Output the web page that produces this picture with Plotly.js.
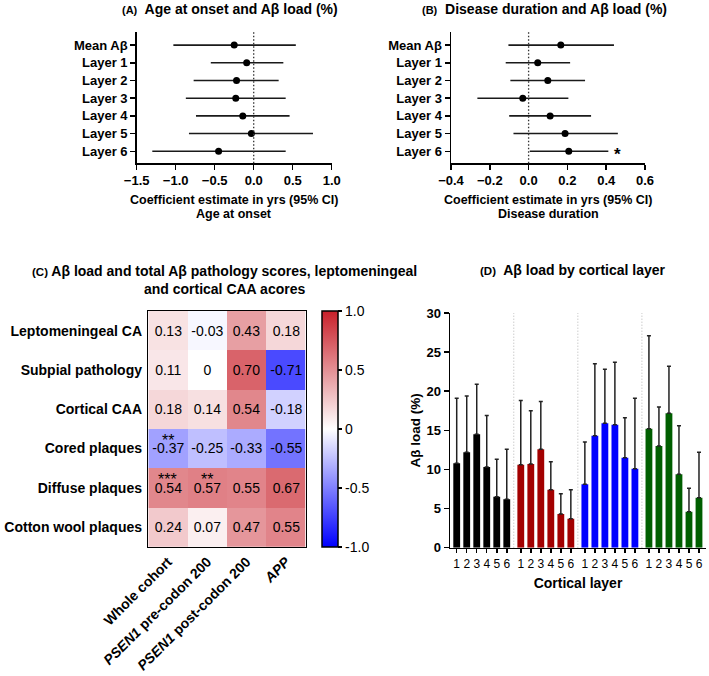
<!DOCTYPE html>
<html>
<head>
<meta charset="utf-8">
<script src="https://cdn.plot.ly/plotly-3.0.1.min.js"></script>
<style>
  body { margin: 0; background: #fff; }
  #chart { width: 709px; height: 676px; }
</style>
</head>
<body>
<div id="chart"></div>
<script>
// forest plots (A, B)
const rowLabels = ['Mean Aβ', 'Layer 1', 'Layer 2', 'Layer 3', 'Layer 4', 'Layer 5', 'Layer 6'];
const onsetEst = [-0.25, -0.09, -0.22, -0.23, -0.14, -0.03, -0.45];
const onsetLow = [-1.03, -0.55, -0.77, -0.87, -0.74, -0.83, -1.30];
const onsetHigh = [0.54, 0.38, 0.32, 0.41, 0.46, 0.76, 0.41];
const durationEst = [0.166, 0.047, 0.099, -0.03, 0.111, 0.188, 0.207];
const durationLow = [-0.104, -0.118, -0.094, -0.264, -0.10, -0.078, 0.006];
const durationHigh = [0.44, 0.214, 0.291, 0.205, 0.322, 0.46, 0.411];
const durationSig = ['', '', '', '', '', '', '*'];

// heatmap (C)
const cohortLabels = ['<b>Whole cohort</b>', '<i>PSEN1</i> <b>pre-codon 200</b>', '<i>PSEN1</i> <b>post-codon 200</b>', '<i>APP</i>'];
const pathologyLabels = ['Leptomeningeal CA', 'Subpial pathology', 'Cortical CAA', 'Cored plaques', 'Diffuse plaques', 'Cotton wool plaques'];
const corrValues = [
  [0.13, -0.03, 0.43, 0.18],
  [0.11, 0, 0.70, -0.71],
  [0.18, 0.14, 0.54, -0.18],
  [-0.37, -0.25, -0.33, -0.55],
  [0.54, 0.57, 0.55, 0.67],
  [0.24, 0.07, 0.47, 0.55]
];
const corrSig = [
  ['', '', '', ''],
  ['', '', '', ''],
  ['', '', '', ''],
  ['**', '', '', ''],
  ['***', '**', '', ''],
  ['', '', '', '']
];
const cbarVals = [-1, -0.5, 0, 0.5, 1];
const cbarText = ['-1.0', '-0.5', '0', '0.5', '1.0'];

// bars (D)
const layerLabels = ['1', '2', '3', '4', '5', '6'];
const groupColors = ['#000000', '#a30000', '#0000ff', '#005e00'];
const loadMean = [
  [10.8, 12.2, 14.5, 10.3, 6.5, 6.2],
  [10.6, 10.7, 12.6, 7.4, 4.3, 3.7],
  [8.1, 14.3, 15.9, 15.7, 11.5, 10.1],
  [15.2, 13.0, 17.2, 9.4, 4.6, 6.4]
];
const loadSD = [
  [8.3, 7.2, 6.4, 6.6, 4.8, 6.4],
  [8.2, 6.8, 6.1, 3.6, 2.6, 3.7],
  [5.4, 9.2, 6.9, 8.0, 5.1, 9.0],
  [11.9, 5.0, 6.0, 6.2, 3.0, 5.8]
];

const FONT = 'Liberation Sans, Arial, sans-serif';
const bold = (size) => ({ family: FONT, size: size, color: '#000', weight: 'bold' });
const plain = (size) => ({ family: FONT, size: size, color: '#000' });
const groupStep = 6.4;

function forestTrace(est, lo, hi, xa, ya) {
  return {
    type: 'scatter', mode: 'markers',
    x: est, y: rowLabels, xaxis: xa, yaxis: ya,
    marker: { color: '#000', size: 7 },
    error_x: {
      type: 'data', symmetric: false,
      array: hi.map((h, i) => h - est[i]),
      arrayminus: lo.map((l, i) => est[i] - l),
      width: 0, thickness: 1.6, color: '#1a1a1a'
    },
    hoverinfo: 'skip'
  };
}

const traces = [
  forestTrace(onsetEst, onsetLow, onsetHigh, 'x', 'y'),
  forestTrace(durationEst, durationLow, durationHigh, 'x2', 'y2'),
  {
    type: 'heatmap',
    z: corrValues, x: cohortLabels, y: pathologyLabels,
    xaxis: 'x3', yaxis: 'y3',
    zmin: -1, zmax: 1,
    colorscale: [[0, '#0000ff'], [0.5, '#ffffff'], [1, '#c8202a']],
    text: corrValues.map(r => r.map(v => v === 0 ? '0' : v.toFixed(2))),
    texttemplate: '%{text}',
    textfont: plain(14),
    hoverinfo: 'skip',
    colorbar: {
      x: 321.7 / 709, xanchor: 'left', xpad: 0,
      y: 1 - 428.85 / 676, yanchor: 'middle', ypad: 0,
      len: 235.7 / 676, lenmode: 'fraction',
      thickness: 16, thicknessmode: 'pixels',
      outlinewidth: 1.5, outlinecolor: '#000',
      ticks: 'outside', ticklen: 4, tickwidth: 1.5, tickcolor: '#000',
      tickvals: cbarVals, ticktext: cbarText,
      tickfont: plain(14)
    }
  }
];

loadMean.forEach((means, g) => {
  traces.push({
    type: 'bar',
    x: means.map((m, l) => g * groupStep + l),
    y: means,
    xaxis: 'x4', yaxis: 'y4',
    width: 0.68,
    marker: { color: groupColors[g], line: { width: 0 } },
    error_y: {
      type: 'data', symmetric: false,
      array: loadSD[g], arrayminus: means.map(() => 0),
      width: 2, thickness: 1.5, color: '#222'
    },
    hoverinfo: 'skip'
  });
});

const barTickVals = [];
const barTickText = [];
loadMean.forEach((means, g) => means.forEach((m, l) => {
  barTickVals.push(g * groupStep + l);
  barTickText.push(layerLabels[l]);
}));

const axisBase = {
  showline: true, linecolor: '#000', linewidth: 1.5,
  ticks: 'outside', ticklen: 5, tickwidth: 1.5, tickcolor: '#000',
  showgrid: false, zeroline: false, fixedrange: true
};

const shapes = [
  { type: 'line', xref: 'x', yref: 'y domain', x0: 0, x1: 0, y0: 0, y1: 1, line: { color: '#333', width: 1.3, dash: '1.5px,2px' } },
  { type: 'line', xref: 'x2', yref: 'y2 domain', x0: 0, x1: 0, y0: 0, y1: 1, line: { color: '#333', width: 1.3, dash: '1.5px,2px' } }
];
for (let g = 0; g < loadMean.length - 1; g++) {
  const xs = g * groupStep + 5 + (groupStep - 5) / 2;
  shapes.push({ type: 'line', xref: 'x4', yref: 'y4 domain', x0: xs, x1: xs, y0: 0, y1: 1, line: { color: '#b5b5b5', width: 1, dash: '1px,2px' } });
}

const titleBase = { xref: 'paper', yref: 'paper', xanchor: 'center', yanchor: 'middle', showarrow: false, font: bold(14) };
const annotations = [
  Object.assign({}, titleBase, { x: 230 / 709, y: 1 - 9 / 676,
    text: '<span style="font-size:11px">(A)</span>  Age at onset and Aβ load (%)' }),
  Object.assign({}, titleBase, { x: 544 / 709, y: 1 - 9 / 676,
    text: '<span style="font-size:11px">(B)</span>  Disease duration and Aβ load (%)' }),
  Object.assign({}, titleBase, { x: 224 / 709, y: 1 - 280 / 676,
    text: '<span style="font-size:11.5px">(C)</span> Aβ load and total Aβ pathology scores, leptomeningeal<br>and cortical CAA acores' }),
  Object.assign({}, titleBase, { x: 573 / 709, y: 1 - 270 / 676,
    text: '<span style="font-size:11.5px">(D)</span>  Aβ load by cortical layer' })
];
// two-line x-axis titles of the forest plots
[['x domain', 'Age at onset'], ['x2 domain', 'Disease duration']].forEach(([ref, label]) => {
  annotations.push({ xref: ref, yref: 'paper', x: 0.5, y: 1 - 200 / 676, xanchor: 'center', yanchor: 'middle', showarrow: false, font: bold(12.5), text: 'Coefficient estimate in yrs (95% CI)' });
  annotations.push({ xref: ref, yref: 'paper', x: 0.5, y: 1 - 214 / 676, xanchor: 'center', yanchor: 'middle', showarrow: false, font: bold(12.5), text: label });
});
durationSig.forEach((s, i) => {
  if (s) annotations.push({ xref: 'x2', yref: 'y2', x: durationHigh[i] + 0.045, y: rowLabels[i], text: s, showarrow: false, yshift: -3, font: bold(17) });
});
corrSig.forEach((row, r) => row.forEach((s, c) => {
  if (s) annotations.push({ xref: 'x3', yref: 'y3', x: cohortLabels[c], y: pathologyLabels[r], text: s, showarrow: false, yshift: 8, font: plain(16) });
}));

const layout = {
  width: 709, height: 676,
  margin: { l: 0, r: 0, t: 0, b: 0 },
  paper_bgcolor: '#fff', plot_bgcolor: '#fff',
  showlegend: false, hovermode: false,
  barmode: 'overlay',
  xaxis: Object.assign({}, axisBase, {
    domain: [136.7 / 709, 331.7 / 709], anchor: 'y',
    range: [-1.5, 1.0], dtick: 0.5, tick0: 0, tickformat: '.1f',
    tickfont: bold(13)
  }),
  yaxis: Object.assign({}, axisBase, {
    domain: [1 - 163.3 / 676, 1 - 32 / 676], anchor: 'x',
    type: 'category', range: [6.68, -0.74], tickfont: bold(13)
  }),
  xaxis2: Object.assign({}, axisBase, {
    domain: [451 / 709, 645 / 709], anchor: 'y2',
    range: [-0.4, 0.6], dtick: 0.2, tick0: 0, tickformat: '.1f',
    tickfont: bold(13)
  }),
  yaxis2: Object.assign({}, axisBase, {
    domain: [1 - 163.3 / 676, 1 - 32 / 676], anchor: 'x2',
    type: 'category', range: [6.68, -0.74], tickfont: bold(13)
  }),
  xaxis3: Object.assign({}, axisBase, {
    domain: [148.3 / 709, 305.7 / 709], anchor: 'y3',
    mirror: true, ticks: '', tickangle: -45, tickfont: bold(14)
  }),
  yaxis3: Object.assign({}, axisBase, {
    domain: [1 - 546.7 / 676, 1 - 311 / 676], anchor: 'x3',
    mirror: true, ticks: '', autorange: 'reversed', tickfont: bold(14), ticklabelstandoff: 2
  }),
  xaxis4: Object.assign({}, axisBase, {
    domain: [450 / 709, 706 / 709], anchor: 'y4',
    range: [-0.67, 24.9], tickvals: barTickVals, ticktext: barTickText,
    ticklen: 4, tickfont: plain(12),
    title: { text: 'Cortical layer', font: bold(14), standoff: 8 }
  }),
  yaxis4: Object.assign({}, axisBase, {
    domain: [1 - 547.7 / 676, 1 - 313 / 676], anchor: 'x4',
    range: [0, 30], dtick: 5, tickfont: bold(13),
    title: { text: 'Aβ load (%)', font: bold(13.5), standoff: 2 }
  }),
  shapes: shapes,
  annotations: annotations
};

Plotly.newPlot('chart', traces, layout, { displayModeBar: false, staticPlot: true });
</script>
</body>
</html>
